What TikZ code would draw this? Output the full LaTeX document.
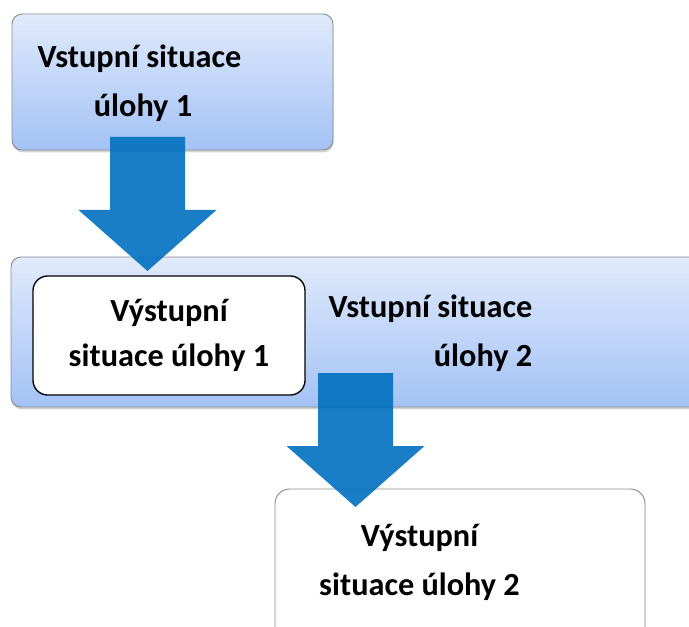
\documentclass[tikz,border=0pt]{standalone}
\usepackage{fontspec}
\setmainfont{Carlito}
\usetikzlibrary{shadows}
\definecolor{arrowblue}{RGB}{0,112,192}
\definecolor{boxtop}{RGB}{224,234,252}
\definecolor{boxbot}{RGB}{163,194,245}
\definecolor{boxline}{RGB}{140,140,140}
\begin{document}
\begin{tikzpicture}[x=0.75pt,y=0.75pt,
  bluebox/.style={draw=boxline, line width=0.7pt, rounded corners=7.5pt,
    top color=boxtop, bottom color=boxbot,
    drop shadow={shadow xshift=0.5pt, shadow yshift=-1.8pt, opacity=0.35}},
  whitebox/.style={draw=black, line width=1pt, rounded corners=11pt, fill=white},
  outbox/.style={draw=boxline, line width=0.7pt, rounded corners=11pt, fill=white,
    drop shadow={shadow xshift=0.5pt, shadow yshift=-1.8pt, opacity=0.25}},
  lbl/.style={anchor=base, inner sep=0pt, font=\fontsize{24.2}{28}\selectfont\bfseries},
  bigarrow/.style={fill=arrowblue, opacity=0.9},
  blockarrow/.pic={\fill[bigarrow] (-37.5,0) -- (37.5,0) -- (37.5,-73) -- (69,-73)
      -- (0,-134) -- (-69,-73) -- (-37.5,-73) -- cycle;}
]
\clip (0,0) rectangle (689,-627);
% box 1
\node[bluebox, minimum width=240.75pt, minimum height=102pt] (b1) at (172.5,-82) {};
\node[lbl] (t1a) at (139.5,-68) {Vstupní situace};
\node[lbl] (t1b) at (143,-116.5) {úlohy 1};
% box 2
\node[bluebox, minimum width=525pt, minimum height=112.5pt] (b2) at (361,-332) {};
\node[whitebox, minimum width=204pt, minimum height=89.25pt] (b2in) at (169,-335.5) {};
\node[lbl] (t2a) at (169,-321) {Výstupní};
\node[lbl] (t2b) at (169,-366.5) {situace úlohy 1};
\node[lbl] (t2c) at (430.5,-318) {Vstupní situace};
\node[lbl] (t2d) at (483,-366.5) {úlohy 2};
% box 3
\node[outbox, minimum width=277.5pt, minimum height=120pt] (b3) at (460,-569) {};
\node[lbl] (t3a) at (419.5,-546) {Výstupní};
\node[lbl] (t3b) at (419.5,-595) {situace úlohy 2};
% arrows
\coordinate (a1) at (147.5,-137);
\coordinate (a2) at (355.5,-373);
\pic at (a1) {blockarrow};
\pic at (a2) {blockarrow};
\end{tikzpicture}
\end{document}
